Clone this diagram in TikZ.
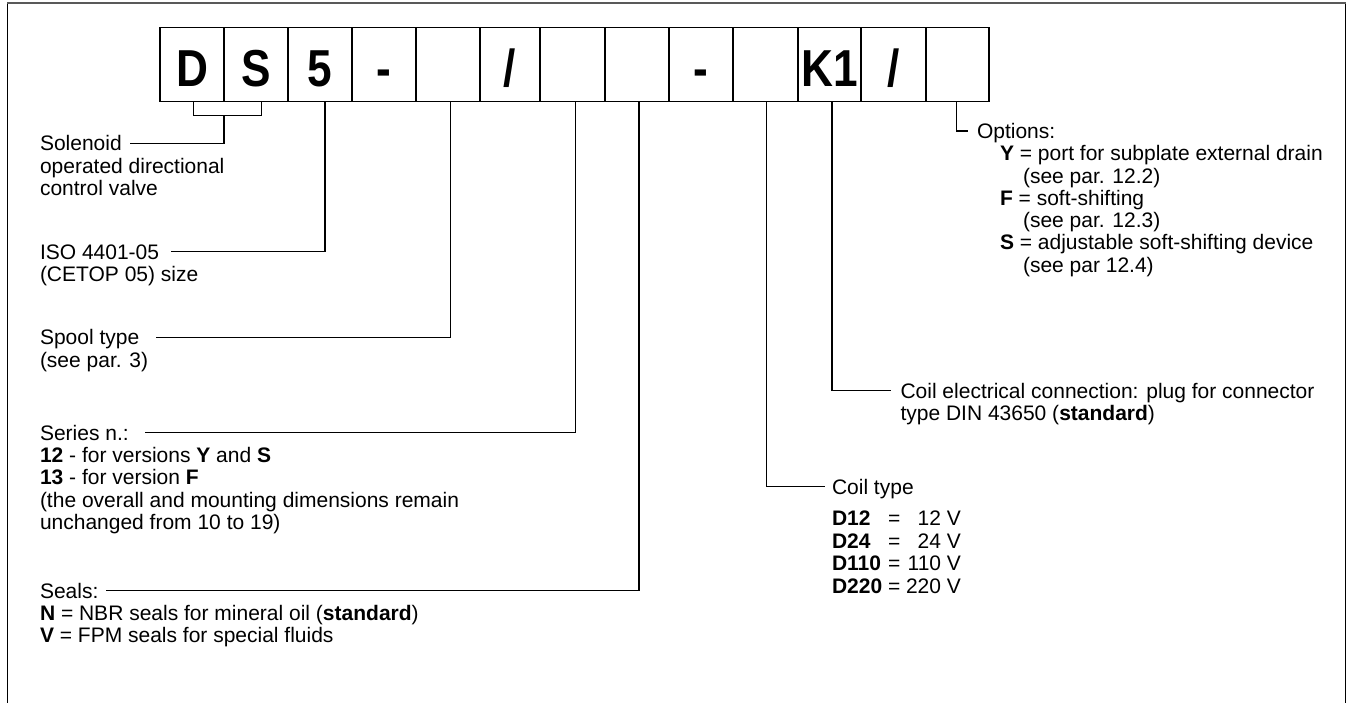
\documentclass[tikz,border=0pt]{standalone}
\usepackage{fontspec}
\setmainfont{Liberation Sans}
\usepackage{graphicx}
\usetikzlibrary{calc}
\newcommand{\mylines}[1]{\begin{tabular}[t]{@{}l@{}}#1\end{tabular}}
\newcommand{\bigch}[1]{\scalebox{0.85}[1]{#1}}
\begin{document}
\begin{tikzpicture}[x=1pt,y=-1pt,
  cell/.style={draw, line width=1.1pt, inner sep=0pt, outer sep=0pt, minimum height=74pt, anchor=north west,
    font=\fontsize{52}{52}\selectfont\bfseries, text height=44pt, text depth=0pt},
  txt/.style={inner sep=0pt, outer sep=0pt, anchor=base west, font=\fontsize{21}{22.3}\selectfont},
  lead/.style={line width=1.1pt}]
\useasboundingbox (0,0) rectangle (1350,703);
% frame
\draw[line width=1pt] (7.5,703) -- (7.5,3);
\draw[line width=1pt] (1345,703) -- (1345,3);
\draw[line width=1.6pt, black!65] (7,3) -- (1345.5,3);
% code cells
\node[cell, minimum width=64pt] (b1) at (160,27.7) {\bigch{D}};
\node[cell, minimum width=64pt] (b2) at (224,27.7) {\bigch{S}};
\node[cell, minimum width=64pt] (b3) at (288,27.7) {\bigch{5}};
\node[cell, minimum width=64pt] (b4) at (352,27.7) {\bigch{-}};
\node[cell, minimum width=64pt] (b5) at (416,27.7) {};
\node[cell, minimum width=60pt] (b6) at (480,27.7) {\bigch{/}};
\node[cell, minimum width=65pt] (b7) at (540,27.7) {};
\node[cell, minimum width=64pt] (b8) at (605,27.7) {};
\node[cell, minimum width=64pt] (b9) at (669,27.7) {\bigch{-}};
\node[cell, minimum width=65pt] (b10) at (733,27.7) {};
\node[cell, minimum width=63pt] (b11) at (798,27.7) {\bigch{K1}};
\node[cell, minimum width=65pt] (b12) at (861,27.7) {\bigch{/}};
\node[cell, minimum width=63pt] (b13) at (926,27.7) {};
% labels
\node[txt] (sol) at (40,151) {\mylines{Solenoid\\operated directional\\control valve}};
\node[txt] (iso) at (40,259.2) {\mylines{ISO 4401-05\\(CETOP 05) size}};
\node[txt] (spool) at (40,344.8) {\mylines{Spool type\\(see par. 3)}};
\node[txt] (ser) at (40,440.2) {\mylines{Series n.:\\\textbf{12} - for versions \textbf{Y} and \textbf{S}\\\textbf{13} - for version \textbf{F}\\(the overall and mounting dimensions remain\\unchanged from 10 to 19)}};
\node[txt] (seal) at (40,598.2) {\mylines{Seals:\\\textbf{N} = NBR seals for mineral oil (\textbf{standard})\\\textbf{V} = FPM seals for special fluids}};
\node[txt] (opt) at (977,138.5) {\mylines{Options:\\\hspace*{23pt}\textbf{Y} = port for subplate external drain\\\hspace*{46pt}(see par. 12.2)\\\hspace*{23pt}\textbf{F} = soft-shifting\\\hspace*{46pt}(see par. 12.3)\\\hspace*{23pt}\textbf{S} = adjustable soft-shifting device\\\hspace*{46pt}(see par 12.4)}};
\node[txt] (conn) at (900.5,398.2) {\mylines{Coil electrical connection: plug for connector\\type DIN 43650 (\textbf{standard})}};
\node[txt] (ctype) at (832,494.2) {Coil type};
\node[txt] (ctab) at (832,525.8) {\renewcommand{\arraystretch}{1.01}\begin{tabular}[t]{@{}l@{\hspace{5.8pt}}c@{\hspace{5.8pt}}r@{}}\textbf{D12} & = & 12 V\\ \textbf{D24} & = & 24 V\\ \textbf{D110} & = & 110 V\\ \textbf{D220} & = & 220 V\end{tabular}};
% connector ends
\coordinate (solend) at (130,143.5);
\coordinate (isoend) at (171,251.7);
\coordinate (spoolend) at (155.6,337.3);
\coordinate (serend) at (145,432.7);
\coordinate (sealend) at (106,590.7);
\coordinate (ctend) at (824.5,486.7);
\coordinate (connend) at (891,390.7);
\coordinate (optend) at (968,131);
% leaders
\draw[lead] ([xshift=1.7pt]b1.south) -- ++(0,14) -| ([xshift=5.3pt]b2.south);
\coordinate (brk) at ($(b1.south east)+(0,14)$);
\draw[lead] (brk) |- (solend);
\draw[lead] ([xshift=5pt]b3.south) |- (isoend);
\draw[lead] ([xshift=2.3pt]b5.south) |- (spoolend);
\draw[lead] ([xshift=3.2pt]b7.south) |- (serend);
\draw[lead] ([xshift=2pt]b8.south) |- (sealend);
\draw[lead] ([xshift=0.8pt]b10.south) |- (ctend);
\draw[lead] ([xshift=2.5pt]b11.south) |- (connend);
\draw[lead] ([xshift=-0.8pt]b13.south) |- (optend);
\end{tikzpicture}
\end{document}
